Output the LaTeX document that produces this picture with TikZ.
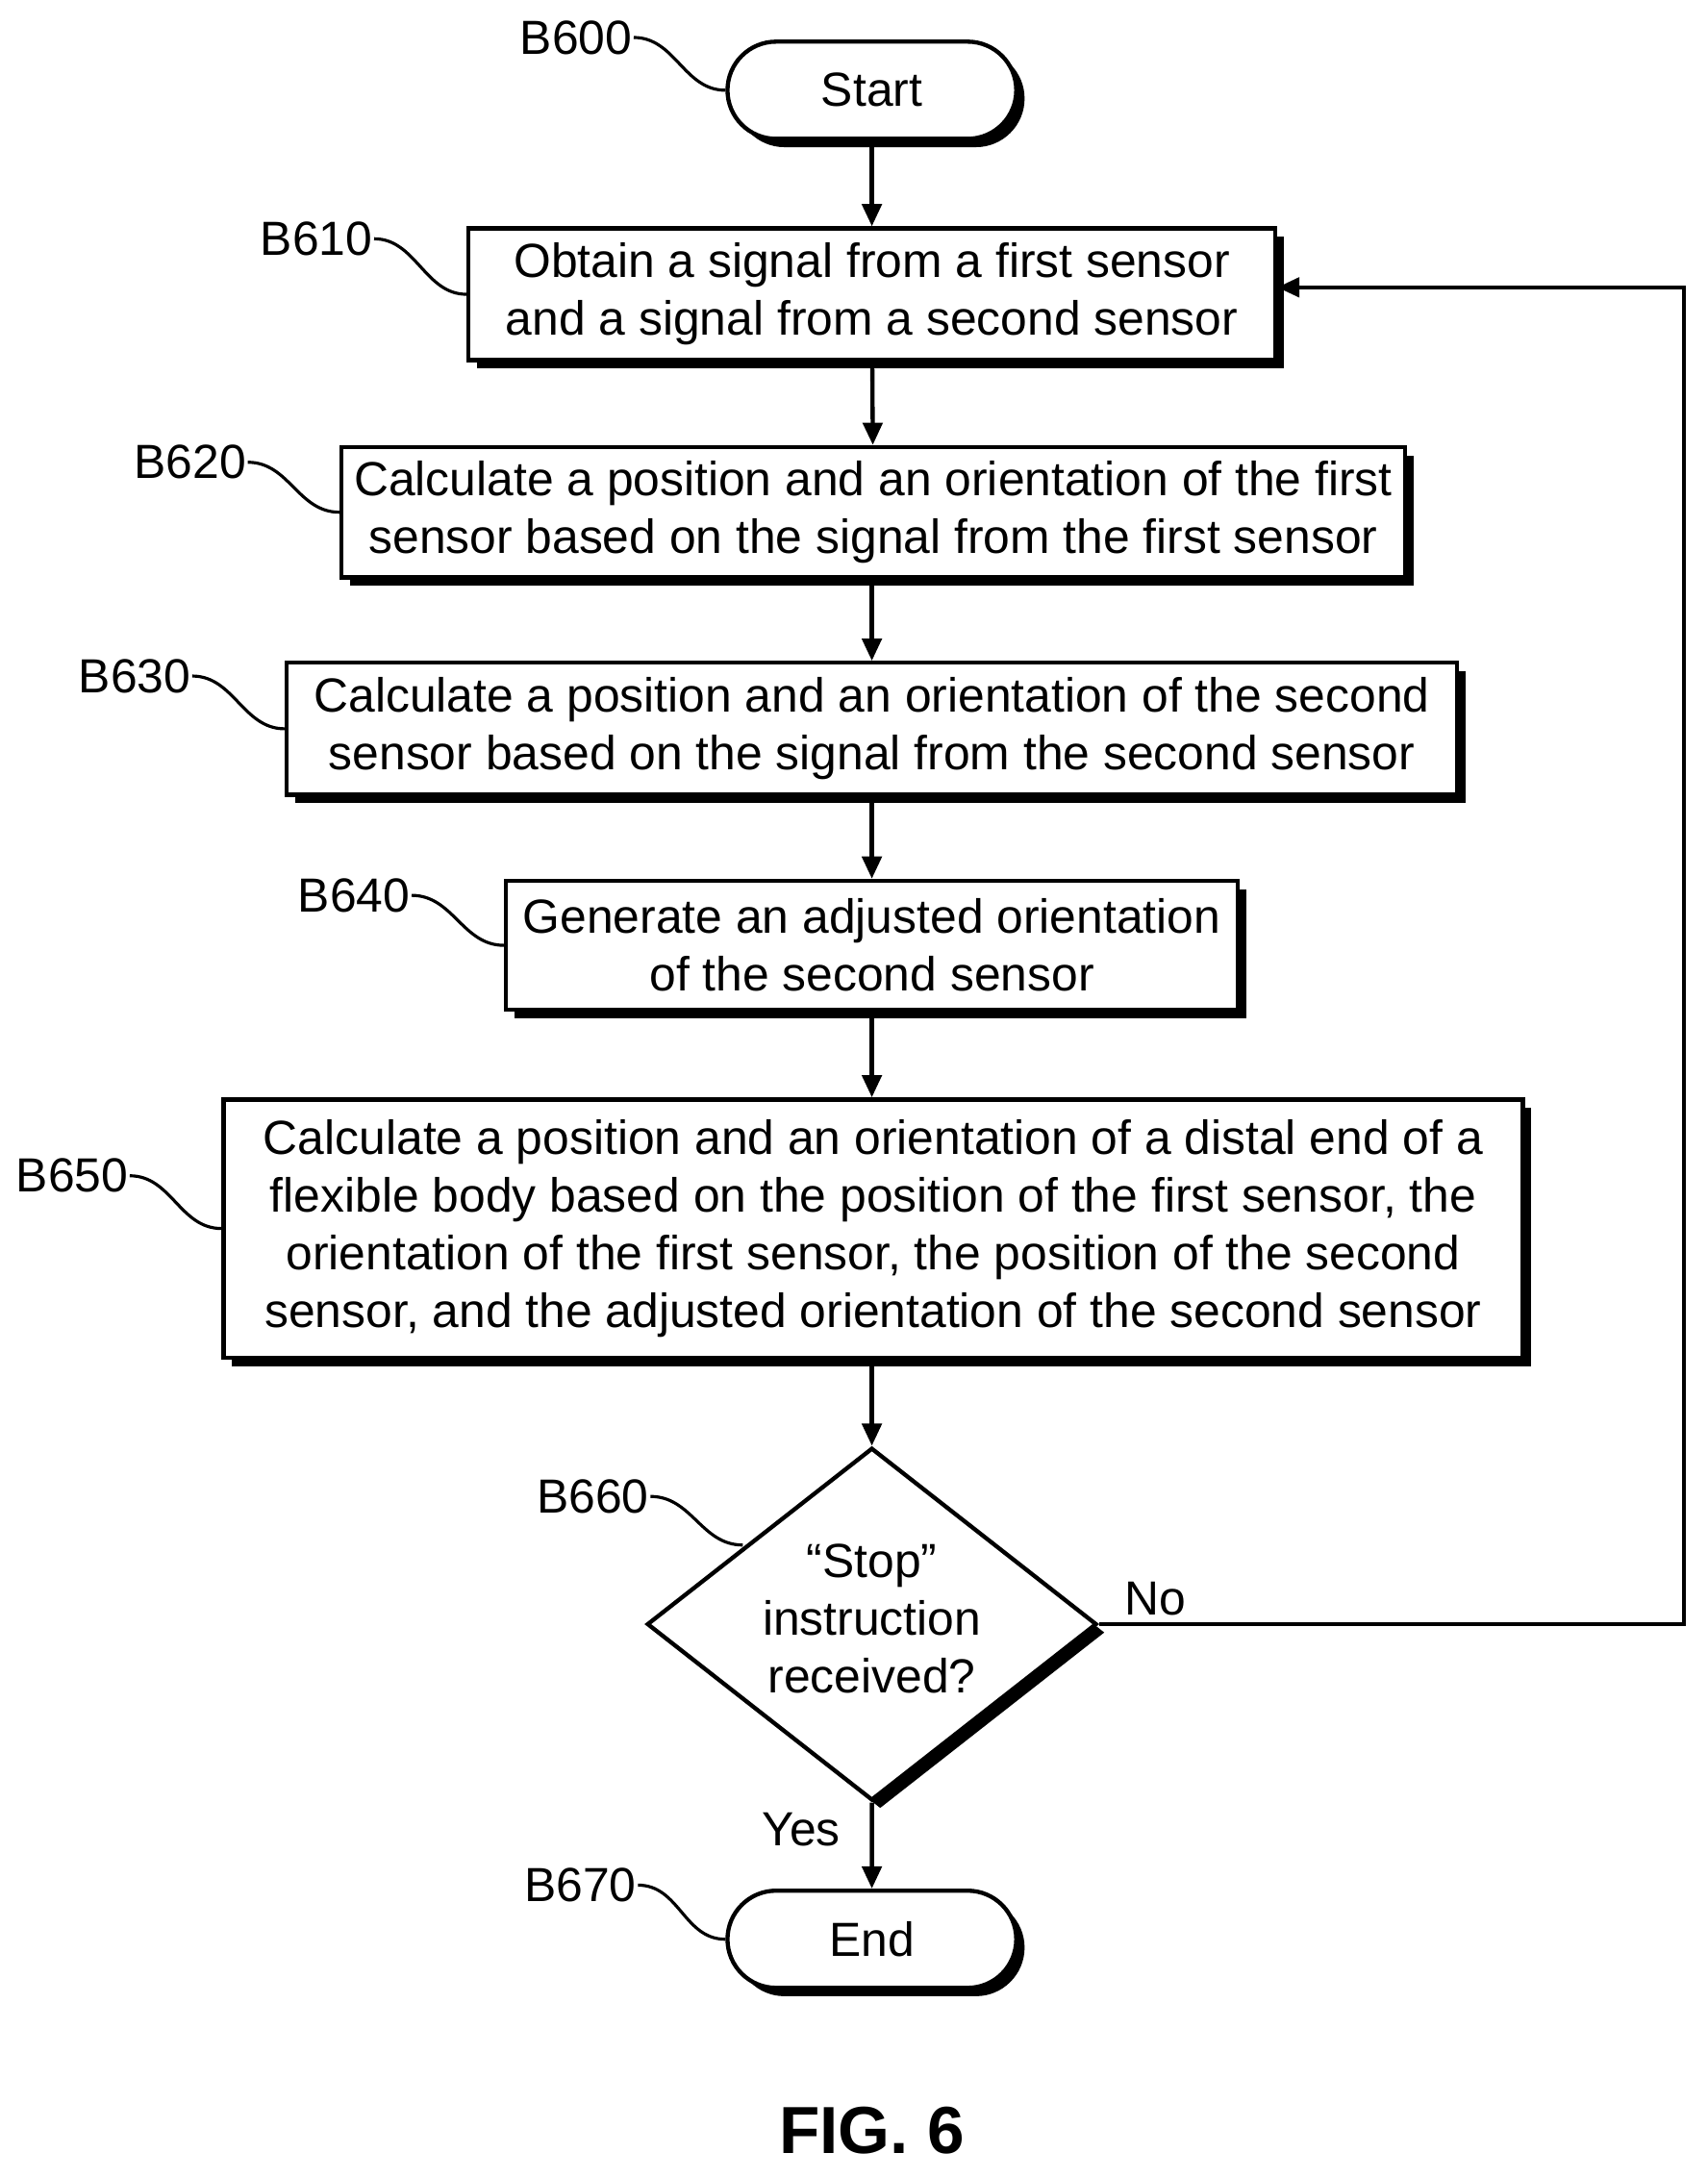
\documentclass[tikz,border=0pt]{standalone}
\usepackage{fontspec}
\setmainfont{Liberation Sans}
\usetikzlibrary{shapes.geometric,shapes.misc,shadows,arrows.meta}
\begin{document}
\begin{tikzpicture}[x=1pt,y=-1pt,
  font=\fontsize{34.5}{41.5}\selectfont,
  sh/.style={drop shadow={shadow xshift=6pt,shadow yshift=-6pt,fill=black,opacity=1}},
  box/.style={draw,line width=3pt,fill=white,sh,align=center,inner sep=0pt},
  term/.style={box,rounded rectangle,minimum width=208pt,minimum height=70pt},
  arr/.style={line width=3pt,-{Triangle[length=16pt,width=14pt]}},
  lead/.style={line width=2.2pt},
  lbl/.style={inner sep=1pt}]
\useasboundingbox (0,0) rectangle (1230,1569);
\node[term] (s) at (628,65) {Start};
\node[box,minimum width=581pt,minimum height=95pt] (b1) at (628,212) {Obtain a signal from a first sensor\\and a signal from a second sensor};
\node[box,minimum width=766pt,minimum height=94pt] (b2) at (629,369) {Calculate a position and an orientation of the first\\sensor based on the signal from the first sensor};
\node[box,minimum width=843pt,minimum height=95pt] (b3) at (628,525) {Calculate a position and an orientation of the second\\sensor based on the signal from the second sensor};
\node[box,minimum width=527pt,minimum height=93pt] (b4) at (628,681) {Generate an adjusted orientation\\of the second sensor};
\node[box,minimum width=936pt,minimum height=186pt] (b5) at (629,885) {Calculate a position and an orientation of a distal end of a\\flexible body based on the position of the first sensor, the\\orientation of the first sensor, the position of the second\\sensor, and the adjusted orientation of the second sensor};
\node[box,diamond,minimum width=324pt,minimum height=254pt] (d) at (628,1170) {};
\node[align=center] (dt) at (628,1166) {“Stop”\\instruction\\received?};
\node[term] (e) at (628,1397) {End};
\node[font=\fontsize{48}{50}\selectfont\bfseries] (fig) at (628,1535) {FIG. 6};
\node[lbl] (l0) at (415,27) {B600};
\node[lbl] (l1) at (228,172) {B610};
\node[lbl] (l2) at (137,333) {B620};
\node[lbl] (l3) at (97,487) {B630};
\node[lbl] (l4) at (255,645) {B640};
\node[lbl] (l5) at (52,847) {B650};
\node[lbl] (l6) at (427,1078) {B660};
\node[lbl] (l7) at (418,1358) {B670};
\node (no) at (832,1152) {No};
\node (yes) at (577,1318) {Yes};
\coordinate (c6) at (535,1113);
\coordinate (cr) at (1213,1170);
\coordinate (ct) at (1213,207);
\foreach \a/\b in {l0/s.west,l1/b1.west,l2/b2.west,l3/b3.west,l4/b4.west,l5/b5.west,l6/c6,l7/e.west}
  \draw[lead] (\a.east) .. controls ++(30,0) and ++(-30,0) .. (\b);
\draw[arr] (s) -- (b1);
\draw[arr] (b1) -- (b2);
\draw[arr] (b2.south -| s) -- (b3.north -| s);
\draw[arr] (b3) -- (b4);
\draw[arr] (b4) -- (b5.north -| s);
\draw[arr] (b5.south -| s) -- (d.north);
\draw[arr] (d.south) -- (e);
\draw[arr] (d.east) -- (cr) -- (ct) -- (b1.east |- ct);
\end{tikzpicture}
\end{document}
